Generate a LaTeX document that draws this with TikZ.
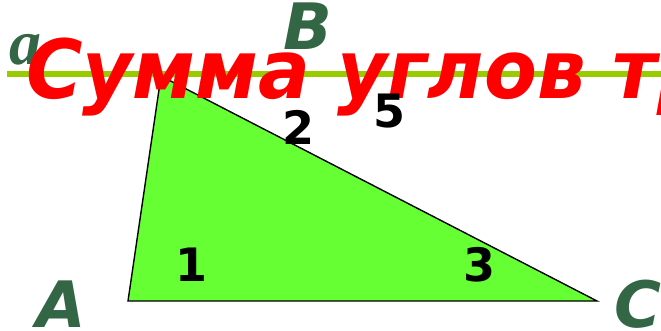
\documentclass[tikz,border=0pt]{standalone}
\usepackage{fontspec}
\setmainfont{DejaVu Sans}
\newfontfamily\serifit{Liberation Serif}
\definecolor{titlered}{RGB}{255,0,0}
\definecolor{lblgreen}{RGB}{51,102,68}
\definecolor{barcol}{RGB}{153,204,0}
\definecolor{trifill}{RGB}{102,255,51}
\begin{document}
\begin{tikzpicture}[x=1pt,y=-1pt,
  vlabel/.style={text=lblgreen,font=\fontsize{64}{64}\selectfont\bfseries\itshape,inner sep=0pt},
  num/.style={text=black,font=\fontsize{46}{46}\selectfont\bfseries,inner sep=0pt},
  title/.style={text=titlered,font=\fontsize{77}{77}\selectfont\bfseries\itshape,inner sep=0pt,anchor=base west,yscale=1.06}]
\useasboundingbox (0,0) rectangle (661,331);
\clip (0,0) rectangle (661,331);
\coordinate (A) at (128,301);
\coordinate (B) at (161,76);
\coordinate (C) at (597,301);
\fill[trifill,draw=black,line width=1.4pt,line join=miter] (A) -- (B) -- (C) -- cycle;
\coordinate (L1) at (7,74);
\coordinate (L2) at (661,74);
\draw[barcol,line width=6.5pt] (L1) -- (L2);
\node[text=lblgreen,font=\serifit\fontsize{64}{64}\selectfont\bfseries\itshape,inner sep=0pt,anchor=base west] (alpha) at (9,65) {a};
\node[title] (t) at (26,99) {Сумма углов треугольника};
\node[vlabel,anchor=base west] (lB) at (283,50) {B};
\node[vlabel,anchor=base west] (lA) at (36,327) {A};
\node[vlabel,anchor=base west] (lC) at (614,327) {C};
\node[num,anchor=base] (n1) at (192,281) {1};
\node[num,anchor=base] (n2) at (298,145) {2};
\node[num,anchor=base] (n5) at (389,128) {5};
\node[num,anchor=base] (n3) at (479,281) {3};
\end{tikzpicture}
\end{document}
